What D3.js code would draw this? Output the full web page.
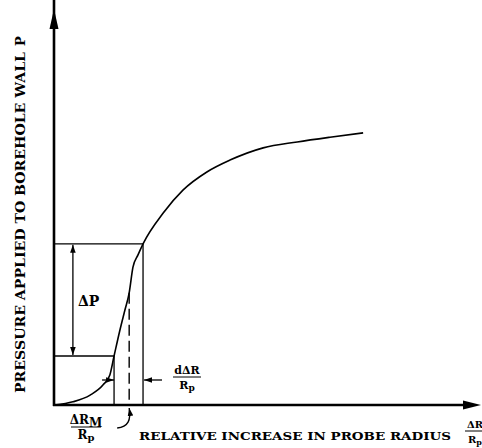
<!DOCTYPE html>
<html>
<head>
  <meta charset="utf-8">
  <title>Pressuremeter curve</title>
  <script src="https://d3js.org/d3.v7.min.js"></script>
  <style>
    body{margin:0;background:#fff;}
    text{font-family:"DejaVu Serif",serif;font-weight:bold;fill:#000;}
  </style>
</head>
<body>
  <script>
      var w=482;
      var h=448;
      // curve: relative radius increase vs pressure (arbitrary units 0-100)
      var radius=[0.2,4.5,8.6,11.7,13.3,14.3,15.7,16.9,17.9,18.8,20.0,21.2,26.0,30.7,36.4,41.9,49.8,57.9,65.7,73.6];
      var pressure=[0,0.8,2.5,5.1,7.6,12.4,19.0,24.1,28.4,34.9,38.0,40.8,48.6,54.4,59.0,62.0,65.1,66.6,67.8,68.9];
      // construction lines
      var pLow=12.4, pHigh=40.8;
      var rLow=14.3, rHigh=21.2, rMid=17.9, pMid=28.4;
      var xLabel="RELATIVE INCREASE IN PROBE RADIUS";
      var yLabel="PRESSURE APPLIED TO BOREHOLE WALL";

      var x=d3.scaleLinear().domain([0,100]).range([54,474]);
      var y=d3.scaleLinear().domain([0,100]).range([405,10]);

      var svg=d3.select("body").append("svg").attr("width",w).attr("height",h);

      var defs=svg.append("defs");
      defs.append("marker").attr("id","small").attr("viewBox","0 0 10 10")
        .attr("refX",10).attr("refY",5).attr("markerWidth",8).attr("markerHeight",8)
        .attr("markerUnits","userSpaceOnUse").attr("orient","auto-start-reverse")
        .append("path").attr("d","M0,1.5L10,5L0,8.5Z");

      // axes
      svg.append("line").attr("x1",x(0)).attr("y1",y(0)+1).attr("x2",x(0)).attr("y2",y(100)-18)
        .attr("stroke","#000").attr("stroke-width",2.6);
      svg.append("path").attr("d","M"+x(0)+","+(y(100)-1)+"l-4.5,20l9,0Z").attr("fill","#000");
      svg.append("line").attr("x1",x(0)-1).attr("y1",y(0)).attr("x2",x(100)-4).attr("y2",y(0))
        .attr("stroke","#000").attr("stroke-width",2.6);
      svg.append("path").attr("d","M"+(x(100)+7)+","+y(0)+"l-18,-4.5l0,9Z").attr("fill","#000");

      // construction rectangle lines
      var thin={stroke:"#000","stroke-width":1.3,fill:"none"};
      function ln(x1,y1,x2,y2){
        var l=svg.append("line").attr("x1",x1).attr("y1",y1).attr("x2",x2).attr("y2",y2);
        for(var k in thin) l.attr(k,thin[k]);
        return l;
      }
      ln(x(0),y(pHigh),x(rHigh),y(pHigh));
      ln(x(rHigh),y(pHigh),x(rHigh),y(0));
      ln(x(0),y(pLow),x(rLow),y(pLow));
      ln(x(rLow),y(pLow),x(rLow),y(0));
      ln(x(rMid),y(pMid),x(rMid),y(0)).attr("stroke-dasharray","11,5").attr("stroke-width",1.4);

      // delta P double arrow
      ln(x(4.5),y(pHigh)+1,x(4.5),y(pLow)-1).attr("marker-start","url(#small)").attr("marker-end","url(#small)");
      svg.append("text").attr("x",x(4.5)+5).attr("y",(y(pHigh)+y(pLow))/2+6)
        .attr("font-size",14).text("\u0394P");

      // d delta R arrows
      var ya=y(0)-25;
      ln(x(rLow)-12,ya,x(rLow),ya).attr("marker-end","url(#small)");
      ln(x(rHigh)+19,ya,x(rHigh)+1,ya).attr("marker-end","url(#small)");

      // the curve
      var pts=radius.map(function(d,i){return [x(d),y(pressure[i])];});
      svg.append("path").attr("d",d3.line().curve(d3.curveMonotoneX)(pts))
        .attr("fill","none").attr("stroke","#000").attr("stroke-width",1.6);

      // fraction labels
      function frac(cx,top,num,sub,dsub,size,wd){
        var g=svg.append("g");
        var t=g.append("text").attr("x",cx).attr("y",top).attr("text-anchor","middle").attr("font-size",size);
        t.append("tspan").text(num);
        if(sub) t.append("tspan").attr("dy",3).text(sub);
        g.append("line").attr("x1",cx-wd/2).attr("x2",cx+wd/2).attr("y1",top+3).attr("y2",top+3)
          .attr("stroke","#000").attr("stroke-width",1);
        var b=g.append("text").attr("x",cx).attr("y",top+15).attr("text-anchor","middle").attr("font-size",size);
        b.append("tspan").text("R");
        b.append("tspan").attr("font-size",size-2).attr("dy",2).text(dsub);
        return g;
      }
      frac(86,424,"\u0394R","M","p",12,30);
      frac(187,374,"d\u0394R","","p",11,28);
      frac(475,428,"\u0394R","","p",10,20);

      // curved pointer to the dashed line
      svg.append("path").attr("d","M"+(x(rMid)-12)+","+(y(0)+23)+"C"+(x(rMid)-1)+","+(y(0)+22)+" "+(x(rMid)+2)+","+(y(0)+15)+" "+x(rMid)+","+(y(0)+3))
        .attr("fill","none").attr("stroke","#000").attr("stroke-width",1.4).attr("marker-end","url(#small)");

      // axis titles
      svg.append("text").attr("x",139).attr("y",440).attr("font-size",11)
        .attr("textLength",312).attr("lengthAdjust","spacingAndGlyphs").text(xLabel);
      svg.append("text").attr("transform","translate(25,393) rotate(-90)").attr("font-size",13)
        .attr("textLength",341).attr("lengthAdjust","spacingAndGlyphs").text(yLabel);
      svg.append("text").attr("transform","translate(25,46) rotate(-90)").attr("font-size",13).text("P");
  </script>
</body>
</html>
